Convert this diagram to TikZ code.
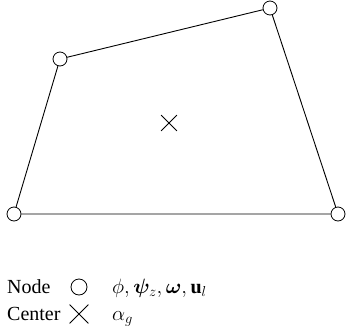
\documentclass[tikz,border=0pt]{standalone}
\usepackage{fontspec}
\setmainfont{Liberation Serif}
\usepackage{amsmath,amssymb,bm}
\usetikzlibrary{shapes.misc,positioning}

\begin{document}
\begin{tikzpicture}[
  x=1pt,y=1pt,
  vert/.style={draw,circle,fill=white,minimum size=14pt,inner sep=0pt,line width=0.8pt},
  ctr/.style={draw,cross out,minimum size=15pt,inner sep=0pt,line width=0.8pt},
  edge/.style={line width=0.9pt},
  lbl/.style={anchor=base west,inner sep=0pt,font=\fontsize{20}{24}\selectfont}
]
  \useasboundingbox (0,0) rectangle (346,-333);

  % element
  \node[vert] (bl) at (14,-214) {};
  \node[vert] (br) at (338,-214) {};
  \node[vert] (tr) at (270,-8) {};
  \node[vert] (tl) at (60,-59) {};
  \node[ctr] (mid) at (169,-123) {};

  \draw[edge] (bl) -- (br) -- (tr) -- (tl) -- (bl);

  % legend
  \node[lbl] (nodetxt) at (7,-293) {Node};
  \node[vert,minimum size=16pt] (nodesym) at (79,-287) {};
  \node[lbl] (nodevars) at (112,-293) {$\phi, \bm{\psi}_z, \bm{\omega}, \mathbf{u}_l$};

  \node[lbl] (ctrtxt) at (7,-320) {Center};
  \node[ctr,minimum size=18pt] (ctrsym) at (79,-314) {};
  \node[lbl] (ctrvars) at (112,-320) {$\alpha_g$};
\end{tikzpicture}
\end{document}
